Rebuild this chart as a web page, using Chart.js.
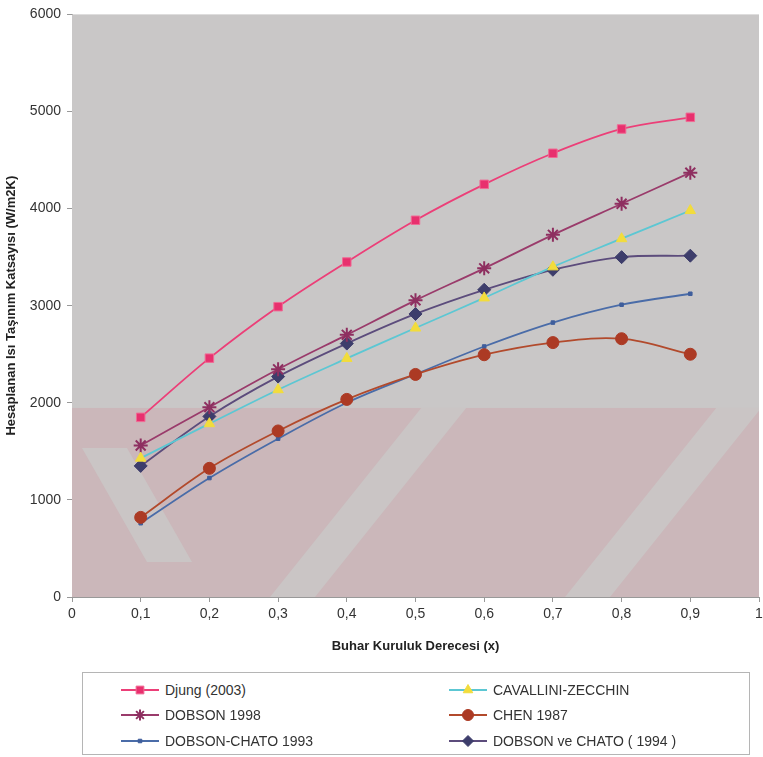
<!DOCTYPE html>
<html>
<head>
<meta charset="utf-8">
<script src="https://cdn.jsdelivr.net/npm/chart.js@4.4.1/dist/chart.umd.min.js"></script>
<style>
  body { margin: 0; background: #fff; font-family: "Liberation Sans", Arial, sans-serif; overflow: hidden; }
  #wrap { position: relative; width: 763px; height: 757px; overflow: hidden; }
  #myChart { position: absolute; left: 0; top: 0; }
  #legend {
    position: absolute; left: 82px; top: 672px; width: 668px; height: 83px;
    border: 1px solid #b5b5b5; box-sizing: border-box;
    display: grid; grid-template-columns: 328px 330px; grid-auto-rows: 25.5px;
    padding: 4px 0 0 36px; font-size: 14px; color: #333;
  }
  #legend div { display: flex; align-items: center; white-space: nowrap; }
  #legend canvas { margin-right: 4px; }
</style>
</head>
<body>
<div id="wrap">
  <canvas id="myChart" width="768" height="658"></canvas>
  <div id="legend"></div>
</div>
<script>
/* global Chart */

// buhar kuruluk derecesi
const xValues = [0.1, 0.2, 0.3, 0.4, 0.5, 0.6, 0.7, 0.8, 0.9];

const djung = [1850, 2460, 2990, 3450, 3880, 4250, 4570, 4820, 4940];
const cavallini = [1430, 1785, 2135, 2457, 2770, 3080, 3400, 3690, 3980];
const dobson1998 = [1560, 1955, 2345, 2700, 3055, 3385, 3730, 4050, 4370];
const chen = [820, 1325, 1710, 2035, 2292, 2495, 2620, 2660, 2500];
const dobsonChato1993 = [760, 1225, 1630, 2000, 2294, 2580, 2826, 3010, 3123];
const dobsonChato1994 = [1350, 1860, 2270, 2610, 2915, 3164, 3370, 3500, 3515];

function pts(arr) {
  return arr.map((v, i) => ({ x: xValues[i], y: v }));
}

// gray plot area + the pinkish band of the scanned page
const plotBg = {
  id: 'plotBg',
  beforeDatasetsDraw(chart) {
    const a = chart.chartArea;
    const c = chart.ctx;
    const bandTop = a.top + (a.bottom - a.top) * 0.6755;
    c.save();
    c.fillStyle = '#c9c7c7';
    c.fillRect(a.left, a.top, a.right - a.left, a.bottom - a.top);
    c.fillStyle = '#cbb7ba';
    c.fillRect(a.left, bandTop, a.right - a.left, a.bottom - bandTop);
    c.beginPath();
    c.rect(a.left, bandTop, a.right - a.left, a.bottom - bandTop);
    c.clip();
    c.fillStyle = '#cac5c5';
    const h = a.bottom - bandTop;
    [270, 565].forEach(x0 => {
      c.beginPath();
      c.moveTo(x0, a.bottom);
      c.lineTo(x0 + 45, a.bottom);
      c.lineTo(x0 + 45 + h * 0.8, bandTop);
      c.lineTo(x0 + h * 0.8, bandTop);
      c.closePath();
      c.fill();
    });
    c.beginPath();
    c.moveTo(a.left + 10, bandTop + 40);
    c.lineTo(a.left + 55, bandTop + 40);
    c.lineTo(a.left + 120, a.bottom - 35);
    c.lineTo(a.left + 75, a.bottom - 35);
    c.closePath();
    c.fill();
    c.restore();
  }
};

const ctx = document.getElementById('myChart').getContext('2d');
const myChart = new Chart(ctx, {
  type: 'line',
  data: {
    datasets: [
      { label: 'Djung (2003)', data: pts(djung), borderColor: '#ec3f78', backgroundColor: '#e8306e',
        pointStyle: 'rect', pointRadius: 6, pointBorderColor: '#f06a94', pointBorderWidth: 1 },
      { label: 'CAVALLINI-ZECCHIN', data: pts(cavallini), borderColor: '#5cc7d3', backgroundColor: '#f2dc3c',
        pointStyle: 'triangle', pointRadius: 6, pointBorderColor: '#f2dc3c', pointBorderWidth: 1 },
      { label: 'DOBSON 1998', data: pts(dobson1998), borderColor: '#9a3b6b', backgroundColor: '#9a3b6b',
        pointStyle: 'star', pointRadius: 7, pointBorderColor: '#8e2f60', pointBorderWidth: 2 },
      { label: 'CHEN 1987', data: pts(chen), borderColor: '#b24a2c', backgroundColor: '#ac3a24',
        pointStyle: 'circle', pointRadius: 6, pointBorderColor: '#ac3a24', pointBorderWidth: 1 },
      { label: 'DOBSON-CHATO 1993', data: pts(dobsonChato1993), borderColor: '#4a6ca8', backgroundColor: '#3f5e9c',
        pointStyle: 'rect', pointRadius: 2.5, pointBorderColor: '#3f5e9c', pointBorderWidth: 1 },
      { label: 'DOBSON ve CHATO ( 1994 )', data: pts(dobsonChato1994), borderColor: '#5c4c7c', backgroundColor: '#3d3d6b',
        pointStyle: 'rectRot', pointRadius: 6.5, pointBorderColor: '#3d3d6b', pointBorderWidth: 1 }
    ]
  },
  options: {
    responsive: false,
    animation: false,
    layout: { padding: { top: 3, right: 0, left: 0, bottom: 0 } },
    elements: { line: { borderWidth: 1.8, tension: 0.35 } },
    plugins: {
      legend: { display: false },
      tooltip: { enabled: false }
    },
    scales: {
      x: {
        type: 'linear', min: 0, max: 1,
        ticks: {
          stepSize: 0.1, color: '#333', padding: 4,
          font: { family: 'Liberation Sans', size: 14 },
          callback: v => String(Math.round(v * 10) / 10).replace('.', ',')
        },
        grid: { drawOnChartArea: false, tickLength: 5, color: '#999' },
        border: { color: '#999' },
        title: { display: true, text: 'Buhar Kuruluk Derecesi (x)', color: '#222',
          font: { family: 'Liberation Sans', size: 13, weight: 'bold' }, padding: { top: 4 } },
        afterFit(scale) { scale.height = 61; }
      },
      y: {
        min: 0, max: 6000,
        ticks: {
          stepSize: 1000, color: '#333', padding: 6,
          font: { family: 'Liberation Sans', size: 14 },
          callback: v => String(v)
        },
        grid: { drawOnChartArea: false, tickLength: 5, color: '#999' },
        border: { color: '#999' },
        title: { display: true, text: 'Hesaplanan Isı Taşınım Katsayısı (W/m2K)', color: '#222',
          font: { family: 'Liberation Sans', size: 13, weight: 'bold' }, padding: { bottom: 4 } },
        afterFit(scale) { scale.width = 72; }
      }
    }
  },
  plugins: [plotBg]
});

// legend in two columns, like the original
const legendEl = document.getElementById('legend');
myChart.data.datasets.forEach(ds => {
  const item = document.createElement('div');
  const sw = document.createElement('canvas');
  sw.width = 42; sw.height = 16;
  const c = sw.getContext('2d');
  c.strokeStyle = ds.borderColor;
  c.lineWidth = 2;
  c.beginPath(); c.moveTo(2, 8); c.lineTo(40, 8); c.stroke();
  c.fillStyle = ds.backgroundColor;
  c.strokeStyle = ds.pointBorderColor;
  c.lineWidth = ds.pointBorderWidth;
  Chart.helpers.drawPoint(c, { pointStyle: ds.pointStyle, radius: Math.min(ds.pointRadius, 5.5), rotation: 0, borderWidth: ds.pointBorderWidth }, 21, 8);
  const txt = document.createElement('span');
  txt.textContent = ds.label;
  item.appendChild(sw);
  item.appendChild(txt);
  legendEl.appendChild(item);
});
</script>
</body>
</html>
